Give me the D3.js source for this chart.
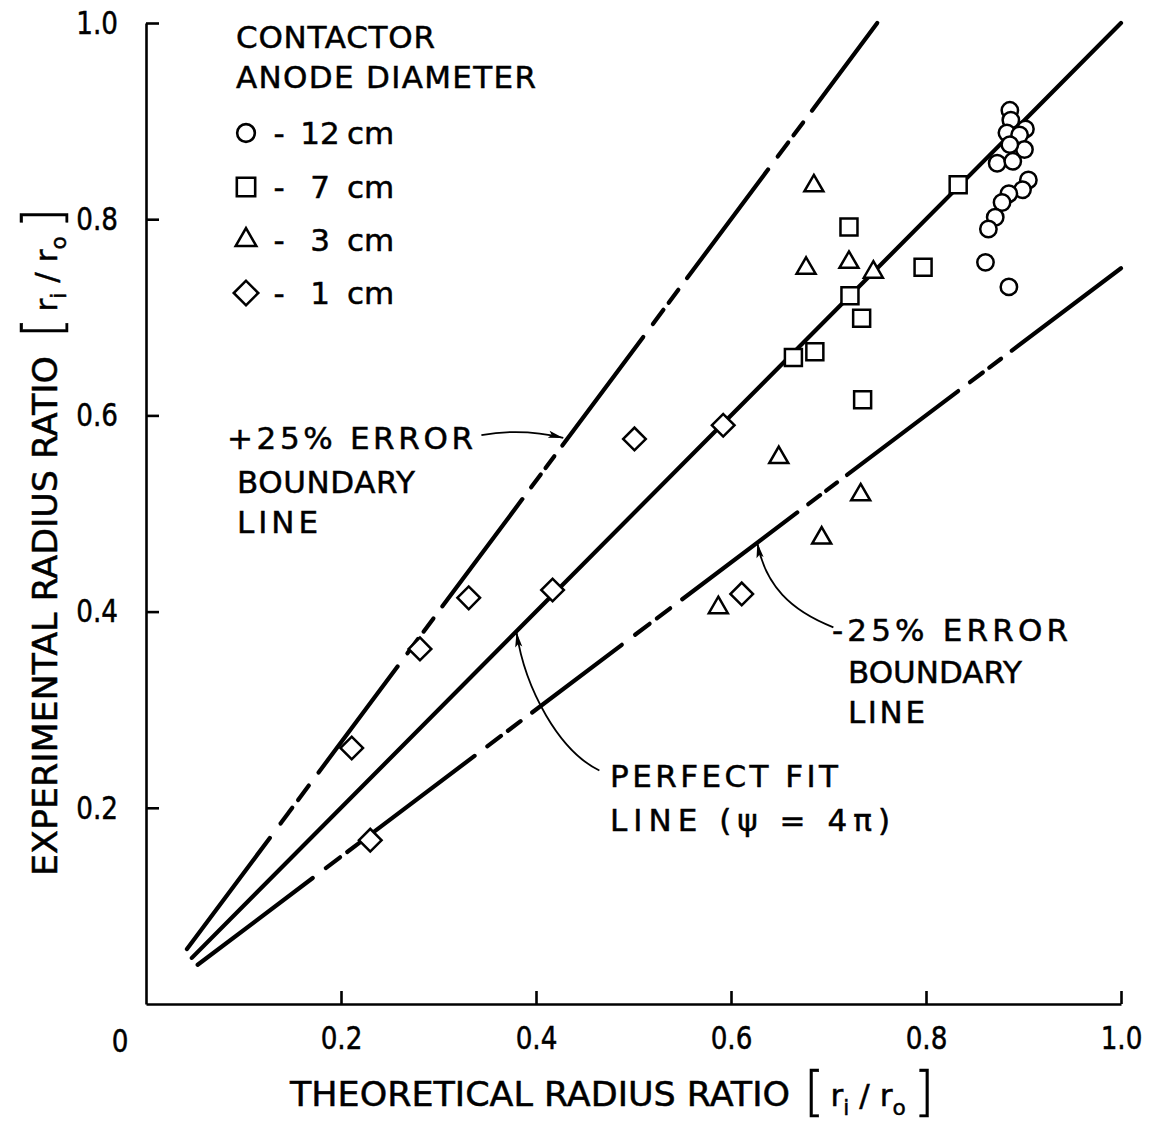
<!DOCTYPE html>
<html>
<head>
<meta charset="utf-8">
<script src="https://cdn.jsdelivr.net/npm/d3@7"></script>
<style>
  html, body { margin: 0; padding: 0; background: #fff; }
  svg { display: block; }
  text { font-family: "DejaVu Sans", "Liberation Sans", sans-serif; fill: #000; stroke: #000; stroke-width: 0.5px; }
</style>
</head>
<body>
<svg id="chart" width="1154" height="1121"></svg>
<script>
// ---- Data -------------------------------------------------------------
// Contactor anode diameter groups (legend order)
const groupLabels  = ["12", "7", "3", "1"];
const groupSymbols = ["circle", "square", "triangle", "diamond"];

// 12 cm anode: theoretical vs experimental radius ratio
const circleX = [0.886, 0.887, 0.883, 0.902, 0.896, 0.901, 0.886, 0.873, 0.889,
                 0.905, 0.899, 0.885, 0.878, 0.871, 0.864, 0.861, 0.885];
const circleY = [0.911, 0.901, 0.888, 0.892, 0.886, 0.871, 0.876, 0.857, 0.859,
                 0.840, 0.830, 0.826, 0.817, 0.802, 0.790, 0.756, 0.731];

// 7 cm anode
const squareX = [0.833, 0.721, 0.722, 0.797, 0.734, 0.664, 0.686, 0.735];
const squareY = [0.835, 0.792, 0.722, 0.751, 0.699, 0.659, 0.665, 0.616];

// 3 cm anode
const triangleX = [0.685, 0.677, 0.721, 0.746, 0.649, 0.733, 0.693, 0.587];
const triangleY = [0.834, 0.750, 0.756, 0.746, 0.557, 0.519, 0.475, 0.404];

// 1 cm anode
const diamondX = [0.211, 0.230, 0.281, 0.331, 0.417, 0.501, 0.592, 0.611];
const diamondY = [0.261, 0.167, 0.362, 0.414, 0.422, 0.576, 0.590, 0.418];

// Reference lines: end points [x0, x1], [y0, y1]
const fitLineX   = [0.047, 1.0];   // perfect fit, psi = 4 pi
const fitLineY   = [0.047, 1.0];
const upperLineX = [0.042, 0.75];  // +25 % error boundary
const upperLineY = [0.056, 1.0];
const lowerLineX = [0.053, 1.0];   // -25 % error boundary
const lowerLineY = [0.040, 0.75];

// x-ranges where the boundary lines are broken into short dashes
const upperBreaks = [[0.127, 0.177], [0.258, 0.304], [0.386, 0.427], [0.510, 0.555], [0.638, 0.683]];
const lowerBreaks = [[0.171, 0.232], [0.337, 0.396], [0.488, 0.550], [0.668, 0.719], [0.833, 0.888]];

// Axis ticks
const xTickValues = [0.2, 0.4, 0.6, 0.8, 1.0];
const yTickValues = [0.2, 0.4, 0.6, 0.8, 1.0];

// ---- Scales & axes ----------------------------------------------------
const svg = d3.select("#chart");
const x = d3.scaleLinear().domain([0, 1]).range([146, 1121]);
const y = d3.scaleLinear().domain([0, 1]).range([1004, 23]);

const fmt = d3.format(".1f");
const axisStroke = 2.6;
const tickFont = 32;

// narrow lettering: squeeze a text element horizontally to a fraction of its natural width
function squeeze(sel, k) {
  sel.each(function () {
    const w = this.getComputedTextLength();
    d3.select(this).attr("textLength", w * k).attr("lengthAdjust", "spacingAndGlyphs");
  });
}

const gx = svg.append("g")
  .attr("transform", `translate(0,${y(0)})`)
  .call(d3.axisBottom(x).tickValues(xTickValues).tickFormat(fmt)
        .tickSizeInner(-13).tickSizeOuter(0).tickPadding(22));

const gy = svg.append("g")
  .attr("transform", `translate(${x(0)},0)`)
  .call(d3.axisLeft(y).tickValues(yTickValues).tickFormat(fmt)
        .tickSizeInner(-13).tickSizeOuter(0).tickPadding(28));

[gx, gy].forEach(g => {
  g.select(".domain").attr("stroke", "#000").attr("stroke-width", axisStroke);
  g.selectAll(".tick line").attr("stroke", "#000").attr("stroke-width", axisStroke);
  g.selectAll(".tick text")
    .attr("font-family", "DejaVu Sans, sans-serif")
    .attr("font-size", tickFont)
    .attr("fill", "#000")
    .call(squeeze, 0.82);
});

// origin label
svg.append("text")
  .attr("x", x(0) - 26).attr("y", y(0) + 48)
  .attr("text-anchor", "middle").attr("font-size", tickFont)
  .text("0").call(squeeze, 0.82);

// ---- Axis titles ------------------------------------------------------
function ratioBracket(g, fs) {
  // [ r_i / r_o ]
  const t = g.append("text").attr("font-size", fs);
  t.append("tspan").attr("font-size", fs * 1.7).attr("font-weight", 300).attr("dy", fs * 0.12).text("[");
  t.append("tspan").attr("dx", 6).attr("dy", -fs * 0.12).text("r");
  t.append("tspan").attr("font-size", fs * 0.7).attr("dy", fs * 0.3).text("i");
  t.append("tspan").attr("dx", 10).attr("dy", -fs * 0.3).text("/");
  t.append("tspan").attr("dx", 10).text("r");
  t.append("tspan").attr("font-size", fs * 0.7).attr("dy", fs * 0.3).text("o");
  t.append("tspan").attr("dx", 8).attr("font-size", fs * 1.7).attr("font-weight", 300).attr("dy", -fs * 0.18).text("]");
  return t;
}

const titleFont = 33;
const xTitle = svg.append("g").attr("transform", "translate(290,1106)");
xTitle.append("text").attr("font-size", titleFont)
  .attr("textLength", 500).attr("lengthAdjust", "spacingAndGlyphs")
  .text("THEORETICAL RADIUS RATIO");
ratioBracket(xTitle.append("g").attr("transform", "translate(514,0)"), 31);

const yTitle = svg.append("g").attr("transform", "translate(57,876) rotate(-90)");
yTitle.append("text").attr("font-size", titleFont)
  .attr("textLength", 520).attr("lengthAdjust", "spacingAndGlyphs")
  .text("EXPERIMENTAL RADIUS RATIO");
ratioBracket(yTitle.append("g").attr("transform", "translate(538,0)"), 31);

// ---- Reference lines --------------------------------------------------
const lineG = svg.append("g")
  .attr("stroke", "#000").attr("stroke-width", 4.2).attr("stroke-linecap", "round");

const dashFrac = [0.22, 0.24, 0.12, 0.22, 0.20]; // gap, dash, gap, dash, gap

function refLine(xs, ys, breaks) {
  const yAt = xv => ys[0] + (ys[1] - ys[0]) * (xv - xs[0]) / (xs[1] - xs[0]);
  const pieces = [];
  let cur = xs[0];
  breaks.forEach(([a, b]) => {
    pieces.push([cur, a]);
    let p = a;
    dashFrac.forEach((f, i) => {
      const q = p + f * (b - a);
      if (i % 2 === 1) pieces.push([p, q]);
      p = q;
    });
    cur = b;
  });
  pieces.push([cur, xs[1]]);
  lineG.append("g").selectAll("line").data(pieces).join("line")
    .attr("x1", d => x(d[0])).attr("y1", d => y(yAt(d[0])))
    .attr("x2", d => x(d[1])).attr("y2", d => y(yAt(d[1])));
}

refLine(fitLineX, fitLineY, []);
refLine(upperLineX, upperLineY, upperBreaks);
refLine(lowerLineX, lowerLineY, lowerBreaks);

// ---- Annotations ------------------------------------------------------
const defs = svg.append("defs");
defs.append("marker")
  .attr("id", "head").attr("markerUnits", "userSpaceOnUse")
  .attr("viewBox", "-16 -5 18 10").attr("refX", 0).attr("refY", 0)
  .attr("markerWidth", 18).attr("markerHeight", 10).attr("orient", "auto")
  .append("path").attr("d", "M0,0 L-15,-3.6 L-12,0 L-15,3.6 Z").attr("fill", "#000");

const annFont = 31;
// text, left x, baseline y, drawn width
const notes = [
  ["+25% ERROR",        227, 449, 246],
  ["BOUNDARY",          237, 493, 178],
  ["LINE",              237, 533, 81],
  ["-25% ERROR",        832, 641, 236],
  ["BOUNDARY",          848, 683, 174],
  ["LINE",              848, 723, 77],
  ["PERFECT FIT",       610, 787, 228],
  ["LINE (\u03C8 = 4\u03C0)", 610, 831, 280]
];
svg.append("g").selectAll("text").data(notes).join("text")
  .attr("x", d => d[1]).attr("y", d => d[2])
  .attr("font-size", annFont)
  .attr("textLength", d => d[3]).attr("lengthAdjust", "spacing")
  .text(d => d[0]);

// leader arrows: [start, control1, control2, tip] in data units
const arrows = [
  [[0.344, 0.580], [0.373, 0.585], [0.404, 0.583], [0.428, 0.577]],
  [[0.465, 0.238], [0.424, 0.258], [0.389, 0.320], [0.380, 0.379]],
  [[0.705, 0.384], [0.661, 0.401], [0.635, 0.427], [0.627, 0.470]]
];
svg.append("g").selectAll("path").data(arrows).join("path")
  .attr("d", p => {
    const pt = p.map(d => [x(d[0]), y(d[1])]);
    return `M${pt[0]}C${pt[1]} ${pt[2]} ${pt[3]}`;
  })
  .attr("fill", "none").attr("stroke", "#000").attr("stroke-width", 1.8)
  .attr("marker-end", "url(#head)");

// ---- Symbols ----------------------------------------------------------
const symbolPath = {
  circle:   d3.symbol(d3.symbolCircle, Math.PI * 8.2 * 8.2)(),
  square:   d3.symbol(d3.symbolSquare, 17 * 17)(),
  triangle: d3.symbol(d3.symbolTriangle, Math.sqrt(3) / 4 * 19 * 19)(),
  diamond:  d3.symbol(d3.symbolSquare, 16 * 16)()
};
const symbolRotate = { circle: 0, square: 0, triangle: 0, diamond: 45 };

function drawSymbols(kind, xs, ys) {
  const pts = xs.map((v, i) => [v, ys[i]]);
  svg.append("g").selectAll("path").data(pts).join("path")
    .attr("d", symbolPath[kind])
    .attr("transform", d => `translate(${x(d[0])},${y(d[1])}) rotate(${symbolRotate[kind]})`)
    .attr("fill", "#fff").attr("stroke", "#000").attr("stroke-width", 2.5);
}
drawSymbols("circle", circleX, circleY);
drawSymbols("square", squareX, squareY);
drawSymbols("triangle", triangleX, triangleY);
drawSymbols("diamond", diamondX, diamondY);

// ---- Legend -----------------------------------------------------------
const leg = svg.append("g");
leg.append("text").attr("x", 236).attr("y", 48).attr("font-size", annFont)
  .attr("textLength", 199).attr("lengthAdjust", "spacing").text("CONTACTOR");
leg.append("text").attr("x", 236).attr("y", 88).attr("font-size", annFont)
  .attr("textLength", 300).attr("lengthAdjust", "spacing").text("ANODE DIAMETER");

const rowY = [133, 187, 240, 293];
groupLabels.forEach((lab, i) => {
  const kind = groupSymbols[i];
  leg.append("path").attr("d", symbolPath[kind])
    .attr("transform", `translate(246,${rowY[i]}) rotate(${symbolRotate[kind]}) scale(1.08)`)
    .attr("fill", "#fff").attr("stroke", "#000").attr("stroke-width", 2.4);
  leg.append("text").attr("x", 279).attr("y", rowY[i] + 11).attr("font-size", annFont)
    .attr("text-anchor", "middle").text("-");
  leg.append("text").attr("x", 320).attr("y", rowY[i] + 11).attr("font-size", annFont)
    .attr("text-anchor", "middle").text(lab);
  leg.append("text").attr("x", 347).attr("y", rowY[i] + 11).attr("font-size", annFont)
    .text("cm");
});
</script>
</body>
</html>
